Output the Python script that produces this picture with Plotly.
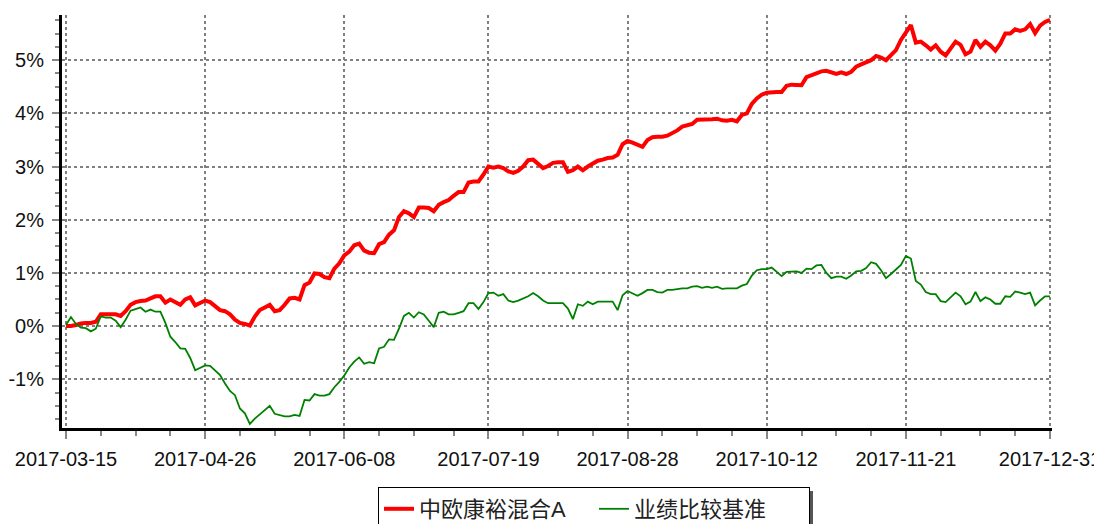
import pandas as pd
import plotly.graph_objects as go

# ---- categories: trading days 2017-03-15 .. 2017-12-29 plus year-end 2017-12-31
holidays = ["2017-04-03", "2017-04-04", "2017-05-01", "2017-05-29", "2017-05-30",
            "2017-10-02", "2017-10-03", "2017-10-04", "2017-10-05", "2017-10-06"]
days = pd.bdate_range("2017-03-15", "2017-12-29")
dates = [d.strftime("%Y-%m-%d") for d in days if d.strftime("%Y-%m-%d") not in holidays] + ["2017-12-31"]

tick_dates = ["2017-03-15", "2017-04-26", "2017-06-08", "2017-07-19",
              "2017-08-28", "2017-10-12", "2017-11-21", "2017-12-31"]

series_names = ["中欧康裕混合A", "业绩比较基准"]

fund = [
    0.00, 0.00, 0.02, 0.05, 0.06, 0.06, 0.08, 0.22, 0.22, 0.22,
    0.22, 0.19, 0.28, 0.40, 0.45, 0.47, 0.48, 0.52, 0.56, 0.56,
    0.44, 0.50, 0.44, 0.40, 0.50, 0.54, 0.39, 0.44, 0.48, 0.45,
    0.37, 0.30, 0.28, 0.22, 0.12, 0.06, 0.04, 0.01, 0.18, 0.30,
    0.35, 0.40, 0.28, 0.30, 0.40, 0.52, 0.53, 0.50, 0.77, 0.82,
    0.99, 0.98, 0.92, 0.90, 1.08, 1.18, 1.33, 1.40, 1.52, 1.55,
    1.42, 1.38, 1.37, 1.54, 1.58, 1.72, 1.80, 2.05, 2.16, 2.12,
    2.05, 2.23, 2.23, 2.22, 2.16, 2.28, 2.33, 2.37, 2.45, 2.52,
    2.52, 2.70, 2.72, 2.72, 2.85, 3.00, 2.98, 3.00, 2.97, 2.91,
    2.88, 2.92, 3.00, 3.12, 3.13, 3.04, 2.97, 3.01, 3.07, 3.08,
    3.08, 2.90, 2.93, 3.00, 2.93, 3.00, 3.05, 3.11, 3.13, 3.16,
    3.17, 3.22, 3.42, 3.48, 3.45, 3.40, 3.37, 3.50, 3.55, 3.56,
    3.56, 3.58, 3.62, 3.68, 3.75, 3.78, 3.80, 3.88, 3.88, 3.89,
    3.89, 3.90, 3.87, 3.86, 3.88, 3.85, 3.97, 4.00, 4.18, 4.28,
    4.35, 4.39, 4.40, 4.40, 4.40, 4.52, 4.54, 4.53, 4.53, 4.68,
    4.72, 4.75, 4.79, 4.80, 4.76, 4.74, 4.77, 4.74, 4.78, 4.88,
    4.92, 4.96, 5.00, 5.08, 5.05, 5.00, 5.10, 5.19, 5.38, 5.52,
    5.66, 5.33, 5.35, 5.28, 5.20, 5.28, 5.16, 5.09, 5.22, 5.35,
    5.29, 5.11, 5.16, 5.38, 5.25, 5.35, 5.28, 5.18, 5.31, 5.50,
    5.50, 5.58, 5.55, 5.58, 5.68, 5.51, 5.65, 5.72, 5.76,
]

bench = [
    0.02, 0.17, 0.04, -0.03, -0.04, -0.10, -0.05, 0.18, 0.16, 0.16,
    0.10, -0.02, 0.12, 0.29, 0.32, 0.35, 0.27, 0.31, 0.27, 0.27,
    0.06, -0.20, -0.30, -0.42, -0.43, -0.60, -0.83, -0.78, -0.74, -0.75,
    -0.83, -0.92, -1.08, -1.22, -1.30, -1.55, -1.64, -1.84, -1.74, -1.66,
    -1.58, -1.50, -1.65, -1.67, -1.70, -1.70, -1.67, -1.69, -1.39, -1.40,
    -1.28, -1.31, -1.31, -1.28, -1.15, -1.05, -0.93, -0.78, -0.67, -0.59,
    -0.71, -0.68, -0.70, -0.42, -0.39, -0.25, -0.26, -0.05, 0.19, 0.25,
    0.16, 0.26, 0.22, 0.10, -0.02, 0.25, 0.27, 0.22, 0.22, 0.25,
    0.28, 0.43, 0.43, 0.32, 0.45, 0.62, 0.63, 0.57, 0.60, 0.48,
    0.45, 0.48, 0.52, 0.56, 0.62, 0.56, 0.48, 0.43, 0.43, 0.43,
    0.43, 0.33, 0.13, 0.41, 0.38, 0.46, 0.41, 0.46, 0.46, 0.46,
    0.46, 0.30, 0.58, 0.66, 0.62, 0.57, 0.62, 0.68, 0.68, 0.64,
    0.63, 0.68, 0.68, 0.70, 0.71, 0.71, 0.74, 0.75, 0.72, 0.74,
    0.72, 0.74, 0.70, 0.71, 0.71, 0.71, 0.76, 0.79, 0.95, 1.05,
    1.07, 1.07, 1.10, 1.02, 0.94, 1.02, 1.03, 1.03, 1.00, 1.08,
    1.07, 1.14, 1.15, 1.00, 0.90, 0.93, 0.93, 0.89, 0.95, 1.03,
    1.04, 1.09, 1.20, 1.17, 1.05, 0.90, 0.98, 1.07, 1.15, 1.32,
    1.27, 0.85, 0.78, 0.64, 0.60, 0.60, 0.47, 0.45, 0.55, 0.63,
    0.56, 0.41, 0.46, 0.64, 0.47, 0.54, 0.50, 0.42, 0.42, 0.56,
    0.55, 0.65, 0.63, 0.60, 0.63, 0.39, 0.48, 0.56, 0.56,
]

y_ticks = [-1, 0, 1, 2, 3, 4, 5]

FONT = "Arial, 'Liberation Sans', 'Noto Sans CJK SC', sans-serif"

# minor ticks: 4 subdivisions between major date ticks
major_idx = [dates.index(d) for d in tick_dates]
minor_vals = []
for a, b in zip(major_idx[:-1], major_idx[1:]):
    for k in (1, 2, 3):
        minor_vals.append(dates[round(a + (b - a) * k / 4)])

fig = go.Figure()
fig.add_trace(go.Scatter(x=dates, y=fund, mode="lines", name=series_names[0],
                         line=dict(color="#ff0000", width=4)))
fig.add_trace(go.Scatter(x=dates, y=bench, mode="lines", name=series_names[1],
                         line=dict(color="#008000", width=1.8)))

# page body has an 8px margin; work in screen pixels and offset
OFF = 8
W, H = 1102 - OFF, 524 - OFF
PL, PR, PT, PB = 62, 1052, 15, 428          # plot area in screen pixels
L, T = PL - OFF, PT - OFF
R, B = W - (PR - OFF), H - (PB - OFF)
pw, ph = PR - PL, PB - PT

def px2x(p):
    return (p - PL) / pw

def px2y(p):
    return (PB - p) / ph

fig.update_layout(
    width=W, height=H,
    margin=dict(l=L, r=R, t=T, b=B, autoexpand=False),
    paper_bgcolor="white", plot_bgcolor="white",
    font=dict(family=FONT, size=20, color="#111111"),
    showlegend=True,
    legend=dict(
        orientation="h", x=px2x(594), xanchor="center", y=px2y(487), yanchor="top",
        bordercolor="#000000", borderwidth=1, bgcolor="white",
        font=dict(family=FONT, size=22, color="#222222"),
        itemwidth=30, tracegroupgap=0, entrywidth=170,
    ),
    shapes=[
        dict(type="rect", xref="paper", yref="paper",
             x0=px2x(808), x1=px2x(813), y0=px2y(530), y1=px2y(491),
             fillcolor="#555555", line=dict(width=0), layer="below"),
    ],
)

fig.update_xaxes(
    type="category", automargin=False,
    range=[-0.8, len(dates) - 1 + 0.4],
    tickmode="array", tickvals=tick_dates, ticktext=tick_dates,
    ticks="outside", ticklen=8, tickwidth=1.5, tickcolor="#888888",
    showline=True, linecolor="#000000", linewidth=3,
    showgrid=True, gridcolor="#808080", griddash="dot", gridwidth=1.5,
    tickfont=dict(family=FONT, size=20, color="#111111"),
    ticklabelstandoff=3,
    minor=dict(tickmode="array", tickvals=minor_vals, ticks="outside",
               ticklen=5, tickwidth=1.5, tickcolor="#888888", showgrid=False),
    zeroline=False,
)

fig.update_yaxes(
    automargin=False,
    range=[-1.917, 5.85],
    tickmode="array", tickvals=y_ticks, ticktext=[f"{v}%" for v in y_ticks],
    ticks="outside", ticklen=7, tickwidth=1.5, tickcolor="#888888",
    showline=True, linecolor="#000000", linewidth=3,
    showgrid=True, gridcolor="#808080", griddash="dot", gridwidth=1.5,
    tickfont=dict(family=FONT, size=20, color="#111111"),
    ticklabelstandoff=4,
    minor=dict(dtick=0.25, tick0=0, ticks="outside", ticklen=4, tickwidth=1.5,
               tickcolor="#888888", showgrid=False),
    zeroline=False,
)

fig.write_html("out.html")
